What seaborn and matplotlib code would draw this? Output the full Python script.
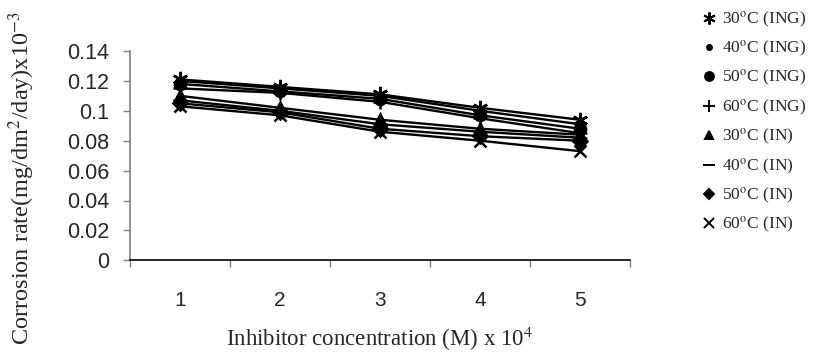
import pandas as pd
import matplotlib
matplotlib.use('Agg')
import matplotlib.pyplot as plt
from matplotlib.lines import Line2D
import seaborn as sns

# ─── data ──────────────────────────────────────────────
concentration = [1, 2, 3, 4, 5]
series_labels = [
    "30$^{\\mathrm{o}}$C (ING)", "40$^{\\mathrm{o}}$C (ING)",
    "50$^{\\mathrm{o}}$C (ING)", "60$^{\\mathrm{o}}$C (ING)",
    "30$^{\\mathrm{o}}$C (IN)", "40$^{\\mathrm{o}}$C (IN)",
    "50$^{\\mathrm{o}}$C (IN)", "60$^{\\mathrm{o}}$C (IN)",
]
rate_30_ing = [0.121, 0.116, 0.111, 0.102, 0.094]
rate_40_ing = [0.120, 0.115, 0.110, 0.100, 0.091]
rate_50_ing = [0.118, 0.113, 0.108, 0.097, 0.088]
rate_60_ing = [0.115, 0.112, 0.106, 0.095, 0.085]
rate_30_in = [0.110, 0.102, 0.094, 0.088, 0.084]
rate_40_in = [0.107, 0.100, 0.091, 0.086, 0.082]
rate_50_in = [0.105, 0.099, 0.088, 0.083, 0.080]
rate_60_in = [0.103, 0.097, 0.086, 0.080, 0.073]
all_rates = [rate_30_ing, rate_40_ing, rate_50_ing, rate_60_ing,
             rate_30_in, rate_40_in, rate_50_in, rate_60_in]

markers = [(6, 2, 0), ".", "o", "+", "^", "_", "D", "x"]
msizes = [11, 9, 8, 10, 8, 10, 7, 9]

# ─── style ─────────────────────────────────────────────
sns.set_style("white")
plt.rcParams['font.family'] = ['Liberation Sans', 'DejaVu Sans']
plt.rcParams['mathtext.fontset'] = 'stix'

fig = plt.figure(figsize=(8.16, 3.52), dpi=100)
ax = fig.add_axes([130 / 816, 1 - 260.3 / 352, 500 / 816, 209.3 / 352])

for lab, vals, m, ms in zip(series_labels, all_rates, markers, msizes):
    d = pd.DataFrame({"conc": concentration, "rate": vals})
    sns.lineplot(data=d, x="conc", y="rate", color="black", marker=m,
                 markersize=ms, markeredgewidth=1.8, markeredgecolor="black",
                 markerfacecolor="black", linewidth=1.7, ax=ax)

ax.set_xlim(0.5, 5.5)
ax.set_ylim(0, 0.14)
ax.set_yticks([0, 0.02, 0.04, 0.06, 0.08, 0.1, 0.12, 0.14])
ax.set_yticklabels(["0", "0.02", "0.04", "0.06", "0.08", "0.1", "0.12", "0.14"])
ax.set_xticks(concentration)
ax.set_xticklabels([str(c) for c in concentration])
ax.set_xticks([0.5, 1.5, 2.5, 3.5, 4.5, 5.5], minor=True)
ax.tick_params(axis='x', which='major', length=0, pad=22, labelsize=15)
ax.tick_params(axis='x', which='minor', length=5, width=1, color='#808080',
               direction='out', bottom=True)
ax.tick_params(axis='y', length=5, width=1, color='#808080', direction='out',
               labelsize=15.5, pad=10, left=True)

for side in ["top", "right"]:
    ax.spines[side].set_visible(False)
ax.spines["left"].set_color("#808080")
ax.spines["bottom"].set_color("black")
ax.spines["left"].set_linewidth(1.2)
ax.spines["bottom"].set_linewidth(1.2)
ax.grid(False)

serif = ['Liberation Serif', 'DejaVu Serif']
ax.set_xlabel("Inhibitor concentration (M) x 10$^{4}$", family=serif, fontsize=16.5, labelpad=11)
ax.set_ylabel("Corrosion rate(mg/dm$^{2}$/day)x10$^{-3}$", family=serif, fontsize=17.5)
ax.yaxis.set_label_coords(-0.186, 0.393)

handles = [Line2D([], [], linestyle='none', marker=m, markersize=s * 0.8, color='black',
                  markeredgewidth=1.4) for m, s in zip(markers, msizes)]
fig.legend(handles, series_labels, loc='upper left', bbox_to_anchor=(688 / 816, 1 + 6 / 352),
           frameon=False, handlelength=0.6, handletextpad=0.45, labelspacing=0.54,
           prop={'family': serif, 'size': 12.5})

fig.savefig("out.png", dpi=100)
